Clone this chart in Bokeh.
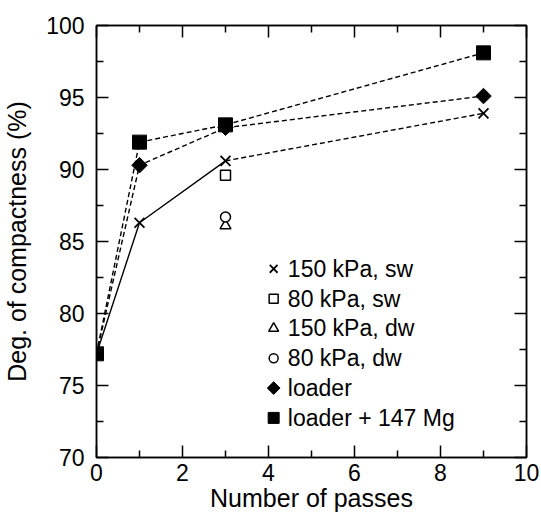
import math
from bokeh.plotting import figure
from bokeh.models import LinearAxis, FixedTicker, Range1d
from bokeh.core.properties import value
from bokeh.embed import file_html
from bokeh.resources import INLINE

# Degree of compactness vs. number of passes
passes = [0, 1, 3, 9]
kpa150_sw = [77.2, 86.3, 90.6, 93.9]
kpa80_sw_x = [3]
kpa80_sw = [89.6]
kpa150_dw_x = [3]
kpa150_dw = [86.1]
kpa80_dw_x = [3]
kpa80_dw = [86.7]
loader = [77.2, 90.3, 92.9, 95.1]
loader147 = [77.2, 91.9, 93.1, 98.1]

x_ticks = [0, 2, 4, 6, 8, 10]
x_minor = [1, 3, 5, 7, 9]
y_ticks = [70, 75, 80, 85, 90, 95, 100]
y_minor = [72.5, 77.5, 82.5, 87.5, 92.5, 97.5]

legend_labels = ["150 kPa, sw", "80 kPa, sw", "150 kPa, dw", "80 kPa, dw",
                 "loader", "loader + 147 Mg"]

FONT = "Liberation Sans"

p = figure(width=541, height=522, x_range=Range1d(0, 10), y_range=Range1d(70, 100),
           output_backend="svg", toolbar_location=None,
           min_border_left=96, min_border_right=15, min_border_top=25,
           min_border_bottom=65, x_axis_label="Number of passes",
           y_axis_label="Deg. of compactness (%)")
p.xgrid.visible = False
p.ygrid.visible = False
p.outline_line_color = "black"
p.outline_line_width = 1.5
p.background_fill_color = "white"
p.border_fill_color = "white"


def style(ax, ticks, minor, labels=True):
    ax.ticker = FixedTicker(ticks=ticks, minor_ticks=minor)
    ax.axis_line_color = "black"
    ax.axis_line_width = 1.5
    ax.major_tick_in = 12
    ax.major_tick_out = 0
    ax.minor_tick_in = 7
    ax.minor_tick_out = 0
    ax.major_tick_line_width = 1.5
    ax.minor_tick_line_width = 1.5
    ax.major_tick_line_color = "black"
    ax.minor_tick_line_color = "black"
    ax.major_label_text_font = FONT
    ax.major_label_text_font_size = "23px"
    ax.major_label_text_color = "black"
    ax.major_label_standoff = 8
    ax.axis_label_text_font = FONT
    ax.axis_label_text_font_size = "25px"
    ax.axis_label_text_font_style = "normal"
    ax.axis_label_text_color = "black"
    ax.axis_label_standoff = 4
    if not labels:
        # frame-side axes carry ticks only
        ax.major_label_overrides = {t: "" for t in ticks}
        ax.major_label_standoff = 0


style(p.xaxis[0], x_ticks, x_minor)
style(p.yaxis[0], y_ticks, y_minor)
p.xaxis[0].major_label_standoff = 6
p.xaxis[0].axis_label_standoff = 0
p.yaxis[0].major_label_standoff = 12
p.yaxis[0].axis_label_standoff = 12
top = LinearAxis()
right = LinearAxis()
style(top, x_ticks, x_minor, labels=False)
style(right, y_ticks, y_minor, labels=False)
p.add_layout(top, "above")
p.add_layout(right, "right")

LW = 1.4
DASH = "5 3"
ROT = math.pi / 4

# connecting lines
p.line(passes[:3], kpa150_sw[:3], line_color="black", line_width=LW)
p.line(passes[2:], kpa150_sw[2:], line_color="black", line_width=LW, line_dash=DASH)
p.line(passes, loader, line_color="black", line_width=LW, line_dash=DASH)
p.line(passes, loader147, line_color="black", line_width=LW, line_dash=DASH)

# markers
p.scatter(passes[1:], kpa150_sw[1:], marker="x", size=14, line_color="black", line_width=1.8)
p.scatter(kpa80_sw_x, kpa80_sw, marker="square", size=10, fill_color="white",
          line_color="black", line_width=1.5)
p.scatter(kpa150_dw_x, kpa150_dw, marker="triangle", size=11, fill_color="white",
          line_color="black", line_width=1.5)
p.scatter(kpa80_dw_x, kpa80_dw, marker="circle", size=10, fill_color="white",
          line_color="black", line_width=1.5)
p.scatter(passes[1:], loader[1:], marker="square", angle=ROT, size=11, color="black")
p.scatter(passes, loader147, marker="square", size=14, color="black")

# legend block
leg_mx = 4.12
leg_tx = 4.45
leg_y0 = 83.1
leg_dy = 2.07
ys = [leg_y0 - i * leg_dy for i in range(len(legend_labels))]
specs = [("x", 11, "black", 1.8, 0), ("square", 9, "white", 1.5, 0),
         ("triangle", 10, "white", 1.5, 0), ("circle", 9, "white", 1.5, 0),
         ("square", 9, "black", 1, ROT), ("square", 11, "black", 1, 0)]
for (mk, sz, fc, lw, ang), yy in zip(specs, ys):
    p.scatter([leg_mx], [yy], marker=mk, size=sz, angle=ang, fill_color=fc,
              line_color="black", line_width=lw)
p.text(x=[leg_tx] * len(ys), y=ys, text=legend_labels, text_font=value(FONT),
       text_font_size="23px", text_baseline="middle", text_color="black")

open("out.html", "w").write(file_html(p, INLINE))
